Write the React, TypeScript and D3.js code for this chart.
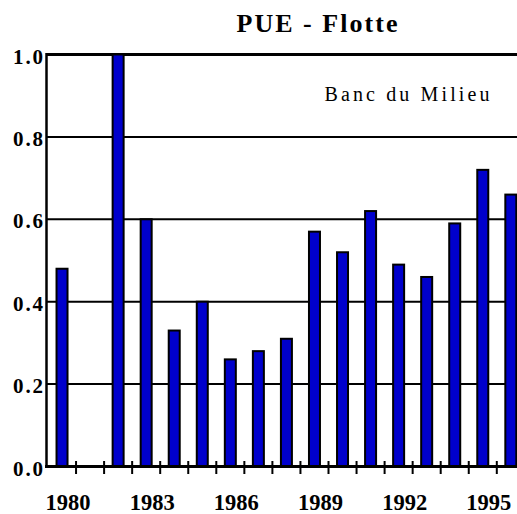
import React from 'react';
import * as d3 from 'd3';

const years = [1980, 1981, 1982, 1983, 1984, 1985, 1986, 1987, 1988, 1989, 1990, 1991, 1992, 1993, 1994, 1995, 1996];
const pue = [0.48, 0, 1.0, 0.6, 0.33, 0.4, 0.26, 0.28, 0.31, 0.57, 0.52, 0.62, 0.49, 0.46, 0.59, 0.72, 0.66];
const yTicks = [0, 0.2, 0.4, 0.6, 0.8, 1.0];
const xLabels = [1980, 1983, 1986, 1989, 1992, 1995];

const WIDTH = 517;
const HEIGHT = 514;
const LEFT = 48;
const STEP = 28.05;
const serif = 'Liberation Serif, DejaVu Serif, Times New Roman, serif';

const App: React.FC = () => {
  const x = d3.scaleBand<number>()
    .domain(years)
    .range([LEFT, LEFT + STEP * years.length])
    .paddingInner(0)
    .paddingOuter(0);
  const y = d3.scaleLinear().domain([0, 1]).range([466.5, 54.5]);

  const bw = x.bandwidth();
  const barW = 11; // plus 2px stroke
  const right = LEFT + STEP * years.length;

  return (
    <svg width={WIDTH} height={HEIGHT} style={{ position: 'absolute', left: 0, top: 0, fontFamily: serif }}>
      <rect width={WIDTH} height={HEIGHT} fill="white" />

      {/* gridlines */}
      {yTicks.filter(t => t > 0).map(t => (
        <line key={t} x1={46} x2={right} y1={y(t)} y2={y(t)}
          stroke="black" strokeWidth={t === 1 ? 3 : 2} />
      ))}

      {/* bars */}
      {years.map((yr, i) => pue[i] > 0 && (
        <rect key={yr}
          x={(x(yr) as number) + bw / 2 - barW / 2}
          y={y(pue[i])}
          width={barW}
          height={y(0) - y(pue[i])}
          fill="#0000cc" stroke="black" strokeWidth={2} />
      ))}

      {/* axes */}
      <line x1={46.5} x2={46.5} y1={53} y2={468} stroke="black" strokeWidth={2.5} />
      <line x1={45} x2={right} y1={y(0)} y2={y(0)} stroke="black" strokeWidth={3} />
      {years.slice(1).map(yr => (
        <line key={yr} x1={x(yr) as number} x2={x(yr) as number} y1={461} y2={474}
          stroke="black" strokeWidth={2} />
      ))}

      {/* y labels */}
      {yTicks.map(t => (
        <text key={t} x={43} y={y(t) + 9} textAnchor="end"
          style={{ fontFamily: serif, fontWeight: 'bold', fontSize: 21 }}
          textLength={30} lengthAdjust="spacing">
          {t.toFixed(1)}
        </text>
      ))}

      {/* x labels */}
      {xLabels.map(yr => (
        <text key={yr} x={(x(yr) as number) + bw / 2 + 6} y={510} textAnchor="middle"
          style={{ fontFamily: serif, fontWeight: 'bold', fontSize: 23 }}
          textLength={45} lengthAdjust="spacingAndGlyphs">
          {yr}
        </text>
      ))}

      <text x={317} y={32} textAnchor="middle"
        style={{ fontFamily: serif, fontWeight: 'bold', fontSize: 26 }}
        textLength={161} lengthAdjust="spacing">
        PUE - Flotte
      </text>
      <text x={407} y={101} textAnchor="middle"
        style={{ fontFamily: serif, fontSize: 20 }}
        textLength={165} lengthAdjust="spacing">
        Banc du Milieu
      </text>
    </svg>
  );
};

export default App;
